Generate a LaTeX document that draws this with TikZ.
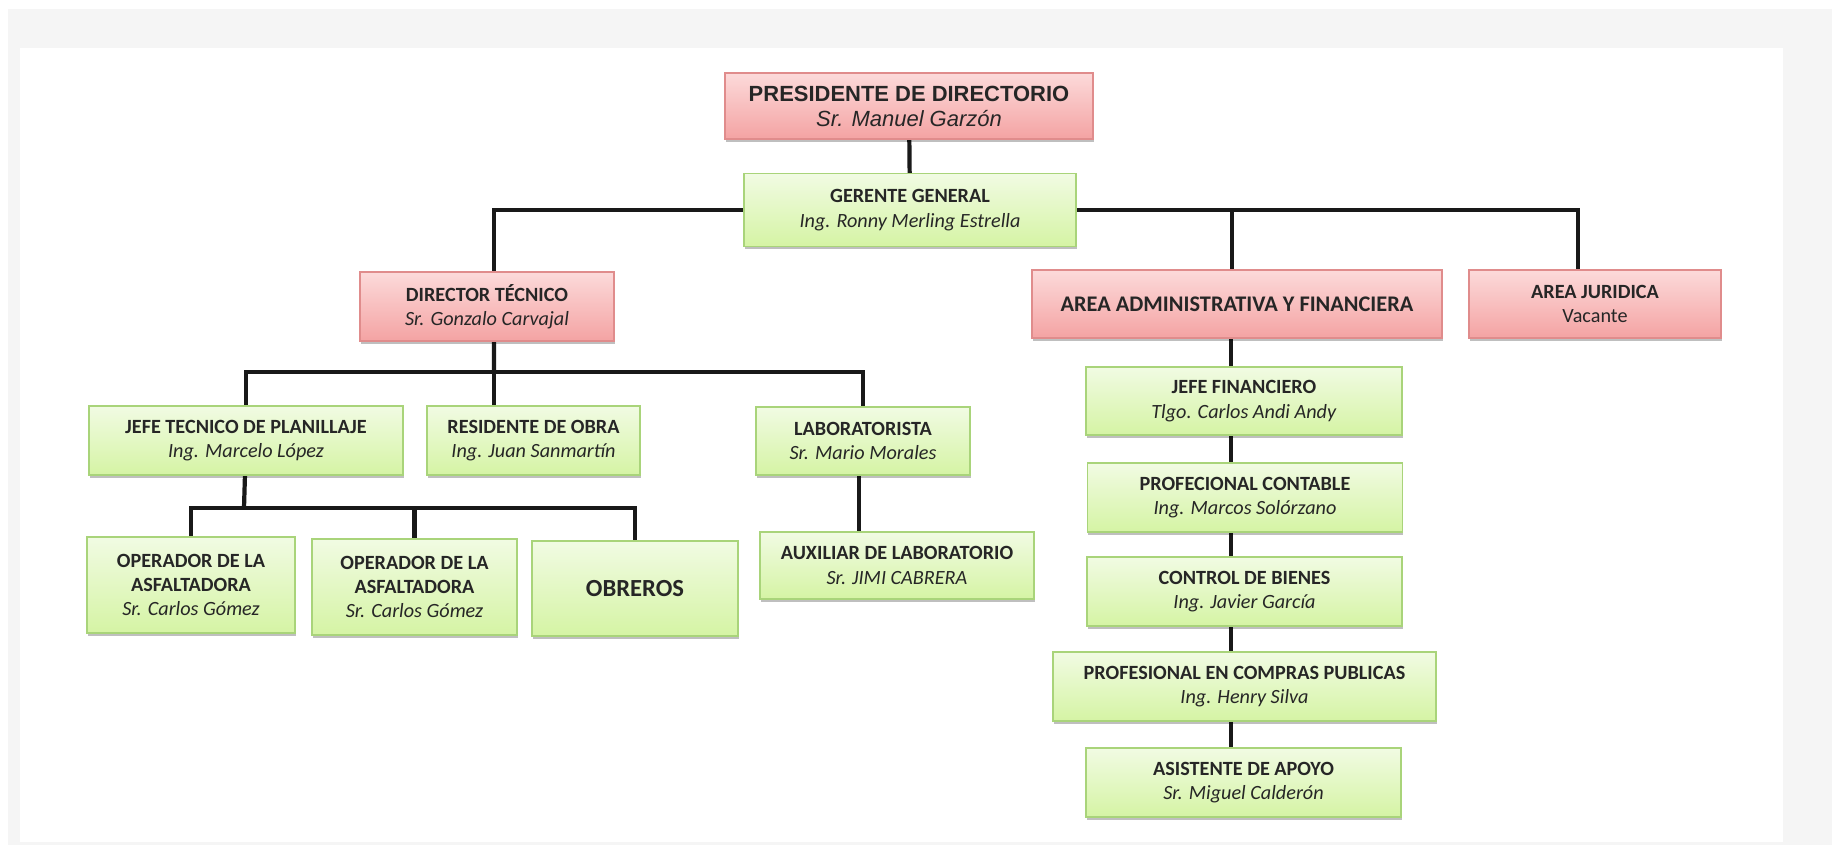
\documentclass[tikz,border=0pt]{standalone}
\usepackage{fontspec}
\setmainfont{Carlito}
\newfontfamily\arialfont{Liberation Sans}
\usetikzlibrary{shadows,backgrounds}

\definecolor{pinktop}{HTML}{FCDADA}
\definecolor{pinkbot}{HTML}{F4A3A3}
\definecolor{pinkline}{HTML}{E08C8C}
\definecolor{greentop}{HTML}{F1FBE3}
\definecolor{greenbot}{HTML}{D5F4A4}
\definecolor{greenline}{HTML}{A9D47A}
\definecolor{pagegray}{HTML}{F5F5F5}
\definecolor{textgray}{HTML}{262626}

\tikzset{
  box/.style={rectangle, inner sep=0pt, align=center, line width=0.8pt, text=textgray,
    font=\fontsize{11.5}{13.8}\selectfont,
    drop shadow={shadow xshift=0.3pt, shadow yshift=-1.5pt, fill=black, opacity=0.25}},
  redbox/.style={box, draw=pinkline, top color=pinktop, bottom color=pinkbot},
  greenbox/.style={box, draw=greenline, top color=greentop, bottom color=greenbot},
  link/.style={line width=2.4pt, draw=black!90},
}

\begin{document}
\begin{tikzpicture}[x=0.02cm, y=-0.02cm]
    \useasboundingbox (0,0) rectangle (1832,845);

    % Page
    \begin{scope}[on background layer]
      \fill[white] (0,0) rectangle (1832,845);
      \fill[pagegray] (8,9) rectangle (1832,845);
      \fill[white] (20,48) rectangle (1783,842);
    \end{scope}

    % Top
    \node[redbox, minimum width=7.36cm, minimum height=1.32cm,
      font=\arialfont\fontsize{12.5}{14.2}\selectfont] (pres) at (909,106)
      {\textbf{PRESIDENTE DE DIRECTORIO}\\\textit{Sr. Manuel Garzón}};
    \node[greenbox, minimum width=6.64cm, minimum height=1.46cm] (gg) at (910,210)
      {\textbf{GERENTE GENERAL}\\\textit{Ing. Ronny Merling Estrella}};

    % Second row
    \node[redbox, minimum width=5.08cm, minimum height=1.38cm] (dt) at (487,306.5)
      {\textbf{DIRECTOR TÉCNICO}\\\textit{Sr. Gonzalo Carvajal}};
    \node[redbox, minimum width=8.20cm, minimum height=1.36cm,
      font=\fontsize{12.7}{14}\selectfont] (adm) at (1237,304)
      {\textbf{AREA ADMINISTRATIVA Y FINANCIERA}};
    \node[redbox, minimum width=5.04cm, minimum height=1.36cm] (jur) at (1595,304)
      {\textbf{AREA JURIDICA}\\Vacante};

    % Technical side
    \node[greenbox, minimum width=6.28cm, minimum height=1.38cm] (jtp) at (246,440.5)
      {\textbf{JEFE TECNICO DE PLANILLAJE}\\\textit{Ing. Marcelo López}};
    \node[greenbox, minimum width=4.26cm, minimum height=1.38cm] (res) at (533.5,440.5)
      {\textbf{RESIDENTE DE OBRA}\\\textit{Ing. Juan Sanmartín}};
    \node[greenbox, minimum width=4.28cm, minimum height=1.36cm] (lab) at (863,441)
      {\textbf{LABORATORISTA}\\\textit{Sr. Mario Morales}};

    \node[greenbox, minimum width=4.16cm, minimum height=1.92cm] (op1) at (191,585)
      {\textbf{OPERADOR DE LA}\\\textbf{ASFALTADORA}\\\textit{Sr. Carlos Gómez}};
    \node[greenbox, minimum width=4.10cm, minimum height=1.92cm] (op2) at (414.5,587)
      {\textbf{OPERADOR DE LA}\\\textbf{ASFALTADORA}\\\textit{Sr. Carlos Gómez}};
    \node[greenbox, minimum width=4.12cm, minimum height=1.90cm,
      font=\fontsize{14}{16}\selectfont] (obr) at (635,588.5)
      {\textbf{OBREROS}};
    \node[greenbox, minimum width=5.48cm, minimum height=1.34cm] (aux) at (897,565.5)
      {\textbf{AUXILIAR DE LABORATORIO}\\\textit{Sr. JIMI CABRERA}};

    % Administrative side
    \node[greenbox, minimum width=6.32cm, minimum height=1.36cm] (jf) at (1244,401)
      {\textbf{JEFE FINANCIERO}\\\textit{Tlgo. Carlos Andi Andy}};
    \node[greenbox, minimum width=6.30cm, minimum height=1.38cm] (pc) at (1245,497.5)
      {\textbf{PROFECIONAL CONTABLE}\\\textit{Ing. Marcos Solórzano}};
    \node[greenbox, minimum width=6.30cm, minimum height=1.38cm] (cb) at (1244.5,591.5)
      {\textbf{CONTROL DE BIENES}\\\textit{Ing. Javier García}};
    \node[greenbox, minimum width=7.66cm, minimum height=1.38cm] (cp) at (1244.5,686.5)
      {\textbf{PROFESIONAL EN COMPRAS PUBLICAS}\\\textit{Ing. Henry Silva}};
    \node[greenbox, minimum width=6.30cm, minimum height=1.38cm] (aa) at (1243.5,782.5)
      {\textbf{ASISTENTE DE APOYO}\\\textit{Sr. Miguel Calderón}};

    % Connectors
    \coordinate (dtbus) at (494,372);
    \coordinate (opbus) at (244,508);
    \begin{scope}[on background layer]
      \draw[link] (pres) -- (gg);
      \draw[link] ([xshift=0.14cm]dt.center) |- (gg.center) -| ([xshift=-0.34cm]jur.center);
      \draw[link] ([xshift=-0.1cm]adm.center) -- ([xshift=-0.1cm]adm.center |- gg.center);
      \draw[link] ([xshift=0.14cm]dt.center) -- (dtbus);
      \draw[link] (jtp.center) |- (dtbus) -| (lab.center);
      \draw[link] (dtbus) -- (dtbus |- res.center);
      \draw[link] (jtp.center) -- (opbus);
      \draw[link] (op1.center) |- (opbus) -| (obr.center);
      \draw[link] (op2.center) -- (op2.center |- opbus);
      \draw[link] ([xshift=-0.08cm]lab.center) -- ([xshift=-0.08cm]lab.center |- aux.center);
      \draw[link] ([xshift=-0.12cm]adm.center) -- ([xshift=-0.12cm]adm.center |- aa.center);
    \end{scope}
\end{tikzpicture}
\end{document}
